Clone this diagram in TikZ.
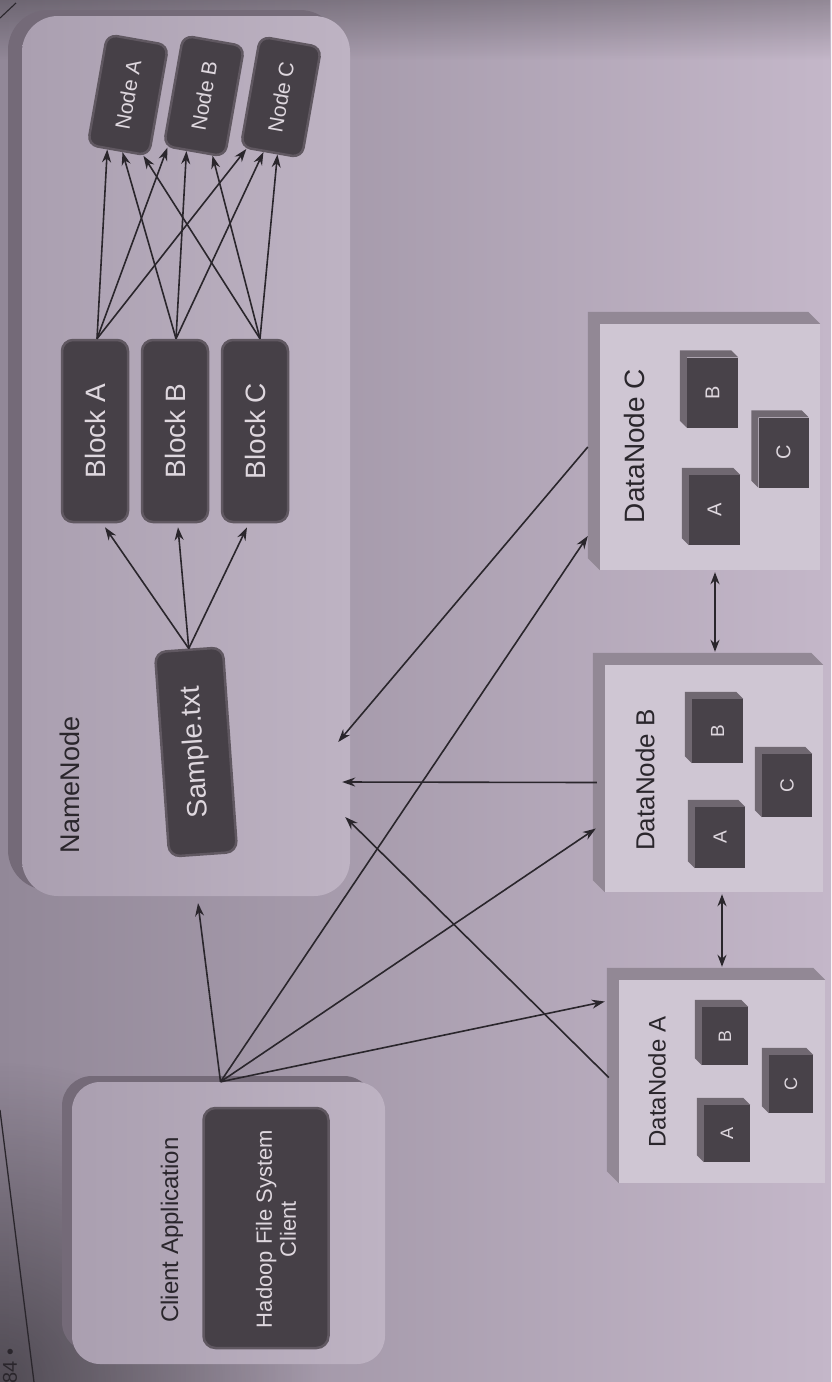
\documentclass[tikz,border=0pt]{standalone}
\usepackage{fontspec}
\usepackage{graphicx}
\setmainfont{Liberation Sans}
\usetikzlibrary{arrows.meta,calc,fadings}

\definecolor{paperL}{RGB}{146,136,152}
\definecolor{paperM}{RGB}{200,187,205}
\definecolor{paperR}{RGB}{196,183,201}
\definecolor{faceL}{RGB}{170,159,176}
\definecolor{faceR}{RGB}{190,179,195}
\definecolor{rim}{RGB}{116,106,120}
\definecolor{darkbox}{RGB}{70,64,71}
\definecolor{darkrim}{RGB}{96,88,97}
\definecolor{lighttext}{RGB}{222,215,222}
\definecolor{ink}{RGB}{42,38,44}
\definecolor{dnface}{RGB}{207,198,211}
\definecolor{dnedge}{RGB}{146,136,149}
\definecolor{cubeface}{RGB}{72,66,73}
\definecolor{cubeedge}{RGB}{112,104,113}

\tikzfading[name=cornerfade, inner color=transparent!0, outer color=transparent!100]

% bevel on the top and left of a box node: #1 node, #2 depth, #3 colour
\newcommand\extrude[3]{%
  \fill[#3] ($(#1.north west)+(-#2,-#2)$) -- ($(#1.north east)+(-#2,-#2)$)
    -- (#1.north east) -- (#1.north west) -- (#1.south west)
    -- ($(#1.south west)+(-#2,-#2)$) -- cycle;}

\begin{document}
\begin{tikzpicture}[x=1pt,y=-1pt,
  arr/.style={-{Stealth[length=13pt,width=9pt]}, line width=1.6pt, draw=ink},
  dbl/.style={{Stealth[length=12pt,width=9pt]}-{Stealth[length=12pt,width=9pt]}, line width=1.6pt, draw=ink},
  darknode/.style={draw=darkrim, line width=2.5pt, fill=darkbox, rounded corners=11pt, text=lighttext, inner sep=0pt},
  blk/.style={darknode, minimum width=66pt, minimum height=182pt, font=\fontsize{28}{30}\selectfont},
  nod/.style={darknode, rounded corners=10pt, minimum width=62pt, minimum height=112pt, rotate=-10, font=\fontsize{21}{23}\selectfont},
  panel/.style={left color=faceL, right color=faceR, inner sep=0pt},
  dnbox/.style={fill=dnface, inner sep=0pt},
  cube/.style={fill=cubeface, inner sep=0pt, text=lighttext},
  lbl/.style={text=ink, inner sep=0pt},
]
% paper
\useasboundingbox (0,0) rectangle (831,1382);
\shade[left color=paperL, middle color=paperM, right color=paperR] (0,0) rectangle (831,1382);
\fill[black, opacity=0.25, path fading=south] (0,0) rectangle (831,60);
\fill[black, opacity=0.45, path fading=cornerfade] (-320,1062) rectangle (320,1702);

% page rule and folio
\draw[ink, line width=1.3pt] (0,1110) -- (34,1382);
\draw[ink, line width=1.1pt] (0,18) -- (16,3);
\node[lbl, font=\fontsize{20}{22}\selectfont] (pg) at (10,1366) {\rotatebox{90}{84 \textbullet}};

% NameNode panel
\fill[rim, rounded corners=40pt] (8,10) rectangle (340,890);
\node[panel, minimum width=328pt, minimum height=880pt, rounded corners=36pt] (nn) at (186,456) {};
\node[lbl, font=\fontsize{27}{29}\selectfont] (nnlbl) at (70,785) {\rotatebox{90}{NameNode}};

\node[darknode, minimum width=68pt, minimum height=205pt, rotate=4, font=\fontsize{28}{30}\selectfont] (smp) at (196,752) {\rotatebox{90}{Sample.txt}};

\node[blk] (blkA) at (95,431) {\rotatebox{90}{Block A}};
\node[blk] (blkB) at (175,431) {\rotatebox{90}{Block B}};
\node[blk] (blkC) at (255,431) {\rotatebox{90}{Block C}};

\node[nod] (nodA) at (128,95) {\rotatebox{90}{Node A}};
\node[nod] (nodB) at (204,96) {\rotatebox{90}{Node B}};
\node[nod] (nodC) at (281,97) {\rotatebox{90}{Node C}};

% Client application panel
\fill[rim, rounded corners=30pt] (62,1076) rectangle (374,1352);
\node[panel, minimum width=313pt, minimum height=282pt, rounded corners=28pt] (cl) at (228.5,1223) {};
\node[lbl, font=\fontsize{24}{26}\selectfont] (cllbl) at (172,1230) {\rotatebox{90}{Client Application}};
\node[darknode, minimum width=125pt, minimum height=240pt, rounded corners=12pt] (hfs) at (266,1228) {};
\node[lbl, text=lighttext, font=\fontsize{22}{24}\selectfont] (hfslbl) at (279,1229)
  {\rotatebox{90}{\begin{tabular}{@{}c@{}}Hadoop File System\\Client\end{tabular}}};

% DataNode C
\node[dnbox, minimum width=220pt, minimum height=246pt] (dnC) at (710,447) {};
\extrude{dnC}{12}{dnedge}
\node[lbl, font=\fontsize{28}{30}\selectfont] (dnClbl) at (634,446) {\rotatebox{90}{DataNode C}};
\node[cube, minimum width=51pt, minimum height=70pt, font=\fontsize{20}{22}\selectfont] (cCb) at (712.5,392.5) {\rotatebox{90}{B}};
\node[cube, minimum width=51pt, minimum height=70pt, font=\fontsize{20}{22}\selectfont] (cCa) at (714.5,510) {\rotatebox{90}{A}};
\node[cube, minimum width=50pt, minimum height=70pt, font=\fontsize{20}{22}\selectfont] (cCc) at (783.5,452.5) {\rotatebox{90}{C}};
\extrude{cCb}{7}{cubeedge}
\extrude{cCa}{7}{cubeedge}
\extrude{cCc}{7}{cubeedge}

% DataNode B
\node[dnbox, minimum width=218pt, minimum height=227pt] (dnB) at (714,778.5) {};
\extrude{dnB}{12}{dnedge}
\node[lbl, font=\fontsize{26}{28}\selectfont] (dnBlbl) at (645,780) {\rotatebox{90}{DataNode B}};
\node[cube, minimum width=51pt, minimum height=64pt, font=\fontsize{19}{21}\selectfont] (cBb) at (717.5,731) {\rotatebox{90}{B}};
\node[cube, minimum width=50pt, minimum height=63pt, font=\fontsize{19}{21}\selectfont] (cBc) at (787,785.5) {\rotatebox{90}{C}};
\node[cube, minimum width=50pt, minimum height=61pt, font=\fontsize{19}{21}\selectfont] (cBa) at (720,837.5) {\rotatebox{90}{A}};
\extrude{cBb}{7}{cubeedge}
\extrude{cBc}{7}{cubeedge}
\extrude{cBa}{7}{cubeedge}

% DataNode A
\node[dnbox, minimum width=206pt, minimum height=203pt] (dnA) at (722,1081.5) {};
\extrude{dnA}{12}{dnedge}
\node[lbl, font=\fontsize{24}{26}\selectfont] (dnAlbl) at (657,1082) {\rotatebox{90}{DataNode A}};
\node[cube, minimum width=46pt, minimum height=58pt, font=\fontsize{18}{20}\selectfont] (cAb) at (725,1036) {\rotatebox{90}{B}};
\node[cube, minimum width=44pt, minimum height=58pt, font=\fontsize{18}{20}\selectfont] (cAc) at (791,1084) {\rotatebox{90}{C}};
\node[cube, minimum width=46pt, minimum height=57pt, font=\fontsize{18}{20}\selectfont] (cAa) at (727,1133.5) {\rotatebox{90}{A}};
\extrude{cAb}{7}{cubeedge}
\extrude{cAc}{7}{cubeedge}
\extrude{cAa}{7}{cubeedge}

% file to blocks
\draw[arr] (smp.north) -- ($(blkA.south)+(10,4)$);
\draw[arr] (smp.north) -- ($(blkB.south)+(3,4)$);
\draw[arr] (smp.north) -- ($(blkC.south)+(-8,4)$);

% blocks to nodes
\coordinate (sA) at ($(blkA.north)+(2,0)$);
\coordinate (sB) at ($(blkB.north)+(1,0)$);
\coordinate (sC) at ($(blkC.north)+(5,0)$);
\draw[arr] (sA) -- ($(nodA.south west)!0.33!(nodA.south east)$);
\draw[arr] (sA) -- ($(nodB.south west)!0.08!(nodB.south east)$);
\draw[arr] (sA) -- ($(nodC.south west)!0.11!(nodC.south east)$);
\draw[arr] (sB) -- ($(nodA.south west)!0.57!(nodA.south east)$);
\draw[arr] (sB) -- ($(nodB.south west)!0.38!(nodB.south east)$);
\draw[arr] (sB) -- ($(nodC.south west)!0.38!(nodC.south east)$);
\draw[arr] (sC) -- ($(nodA.south west)!0.9!(nodA.south east)$);
\draw[arr] (sC) -- ($(nodB.south west)!0.79!(nodB.south east)$);
\draw[arr] (sC) -- ($(nodC.south west)!0.6!(nodC.south east)$);

% client requests
\coordinate (cOut) at ($(cl.north)+(-8,0)$);
\draw[arr] (cOut) -- ($(nn.south)+(12,7)$);
\draw[arr] (cOut) -- ($(dnC.west)+(-12,89)$);
\draw[arr] (cOut) -- ($(dnB.west)+(-9,50)$);
\draw[arr] (cOut) -- ($(dnA.west)+(-14,-80)$);

% DataNode reports to the NameNode
\draw[arr] ($(dnC.west)+(-12,0)$) -- ($(nn.east)+(-12,286)$);
\draw[arr] ($(dnB.west)+(-8,4)$) -- ($(nn.east)+(-8,326)$);
\draw[arr] ($(dnA.west)+(-10,-4)$) -- ($(nn.east)+(-5,361)$);

% replication between DataNodes
\draw[dbl] ($(dnC.south)+(5,2)$) -- ($(dnB.north)+(1,-13)$);
\draw[dbl] ($(dnB.south)+(8,2)$) -- ($(dnA.north)+(0,-13)$);
\end{tikzpicture}
\end{document}
